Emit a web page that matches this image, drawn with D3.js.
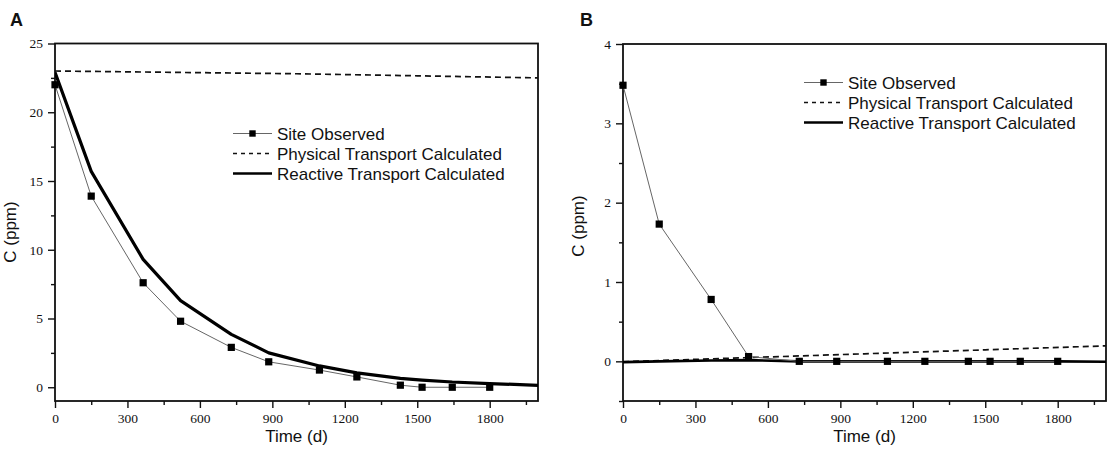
<!DOCTYPE html>
<html>
<head>
<meta charset="utf-8">
<script src="https://cdn.jsdelivr.net/npm/d3@7"></script>
<style>
  html, body { margin: 0; padding: 0; background: #fff; }
  svg { display: block; }
  .sans { font-family: "Liberation Sans", Arial, sans-serif; fill: #111; }
</style>
</head>
<body>
<svg id="chart" width="1118" height="457"></svg>
<script>
// ---------- data ----------
const timeObs   = [0, 150, 365, 520, 730, 885, 1095, 1250, 1430, 1520, 1645, 1800];
const obsA      = [22.0, 13.9, 7.6, 4.8, 2.9, 1.85, 1.25, 0.75, 0.15, 0, 0, 0];
const obsB      = [3.48, 1.73, 0.78, 0.06, 0, 0, 0, 0, 0, 0, 0, 0];

const timeCalc  = [0, 150, 365, 520, 730, 885, 1095, 1250, 1430, 1520, 1645, 1800, 2000];
const reactA    = [22.9, 15.7, 9.3, 6.3, 3.85, 2.5, 1.55, 1.05, 0.65, 0.52, 0.38, 0.27, 0.14];
const reactB    = [-0.01, 0.0, 0.01, 0.015, 0.0, 0.0, 0.0, 0.0, 0.0, 0.0, 0.0, 0.0, -0.005];

const timePhys  = [0, 500, 1000, 1500, 2000];
const physA     = [23.0, 22.9, 22.8, 22.65, 22.5];
const physB     = [-0.005, 0.045, 0.095, 0.145, 0.195];

const xTicks      = [0, 300, 600, 900, 1200, 1500, 1800];
const xMinorTicks = [150, 450, 750, 1050, 1350, 1650, 1950];
const yTicksA      = [0, 5, 10, 15, 20, 25];
const yMinorTicksA = [2.5, 7.5, 12.5, 17.5, 22.5];
const yTicksB      = [0, 1, 2, 3, 4];
const yMinorTicksB = [-0.5, 0.5, 1.5, 2.5, 3.5];

const legendLabels = ["Site Observed", "Physical Transport Calculated", "Reactive Transport Calculated"];
const xTitle = "Time (d)";
const yTitle = "C (ppm)";

// ---------- drawing ----------
const svg = d3.select("#chart");

function styleAxis(sel) {
  sel.select(".domain").remove();
  sel.selectAll(".tick line").attr("stroke", "#111").attr("stroke-width", 1.4);
  sel.selectAll(".tick text")
    .style("font-family", '"Liberation Serif", "Times New Roman", serif')
    .style("font-size", "13.5px").attr("fill", "#111");
}

function panel(opt) {
  const g = svg.append("g");
  const x = d3.scaleLinear().domain([0, 2000]).range([opt.left, opt.right]);
  const y = d3.scaleLinear().domain(opt.yDomain).range([opt.bottom, opt.top]);

  const clipId = "clip" + opt.id;
  svg.append("clipPath").attr("id", clipId).append("rect")
    .attr("x", opt.left).attr("y", opt.top)
    .attr("width", opt.right - opt.left).attr("height", opt.bottom - opt.top);

  // axes
  g.append("g").attr("transform", `translate(0,${opt.bottom})`)
    .call(d3.axisBottom(x).tickValues(xTicks).tickSize(7).tickSizeOuter(0).tickPadding(5).tickFormat(d3.format("d")))
    .call(styleAxis);
  g.append("g").attr("transform", `translate(0,${opt.bottom})`)
    .call(d3.axisBottom(x).tickValues(xMinorTicks).tickSize(4).tickSizeOuter(0).tickFormat(""))
    .call(styleAxis);
  g.append("g").attr("transform", `translate(${opt.left},0)`)
    .call(d3.axisLeft(y).tickValues(opt.yTicks).tickSize(7).tickSizeOuter(0).tickPadding(5).tickFormat(d3.format("d")))
    .call(styleAxis);
  g.append("g").attr("transform", `translate(${opt.left},0)`)
    .call(d3.axisLeft(y).tickValues(opt.yMinor).tickSize(4).tickSizeOuter(0).tickFormat(""))
    .call(styleAxis);

  // frame
  g.append("rect").attr("x", opt.left).attr("y", opt.top)
    .attr("width", opt.right - opt.left).attr("height", opt.bottom - opt.top)
    .attr("fill", "none").attr("stroke", "#111").attr("stroke-width", 1.8);

  const plot = g.append("g").attr("clip-path", `url(#${clipId})`);
  const line = d3.line().x(d => x(d[0])).y(d => y(d[1]));

  // physical (dashed)
  plot.append("path").datum(timePhys.map((t, i) => [t, opt.phys[i]]))
    .attr("d", line).attr("fill", "none").attr("stroke", "#111")
    .attr("stroke-width", 1.7).attr("stroke-dasharray", "6,4");

  // reactive (thick)
  plot.append("path").datum(timeCalc.map((t, i) => [t, opt.react[i]]))
    .attr("d", line).attr("fill", "none").attr("stroke", "#000")
    .attr("stroke-width", opt.reactWidth).attr("stroke-linejoin", "round");

  // observed
  const obs = timeObs.map((t, i) => [t, opt.obs[i]]);
  plot.append("path").datum(obs)
    .attr("d", line).attr("fill", "none").attr("stroke", "#666").attr("stroke-width", 1);
  g.selectAll(".obs" + opt.id).data(obs).enter().append("rect")
    .attr("x", d => x(d[0]) - 3.6).attr("y", d => y(d[1]) - 3.6)
    .attr("width", 7.2).attr("height", 7.2).attr("fill", "#000");

  // titles
  g.append("text").attr("class", "sans")
    .attr("x", (opt.left + opt.right) / 2).attr("y", 442)
    .attr("text-anchor", "middle").attr("font-size", 17).text(xTitle);
  g.append("text").attr("class", "sans")
    .attr("transform", `translate(${opt.yTitleX},${opt.yTitleY}) rotate(-90)`)
    .attr("text-anchor", "middle").attr("font-size", 17).text(yTitle);

  // panel letter
  g.append("text").attr("class", "sans")
    .attr("x", opt.letterX).attr("y", 26)
    .attr("font-size", 18).attr("font-weight", "bold").text(opt.letter);

  // legend
  const lg = g.append("g");
  legendLabels.forEach((lab, i) => {
    const yy = opt.legY + i * 20;
    const x0 = opt.legX, x1 = opt.legX + 39;
    if (i === 0) {
      lg.append("line").attr("x1", x0).attr("x2", x1).attr("y1", yy).attr("y2", yy)
        .attr("stroke", "#666").attr("stroke-width", 1);
      lg.append("rect").attr("x", (x0 + x1) / 2 - 3.2).attr("y", yy - 3.2)
        .attr("width", 6.4).attr("height", 6.4).attr("fill", "#000");
    } else if (i === 1) {
      lg.append("line").attr("x1", x0).attr("x2", x1).attr("y1", yy).attr("y2", yy)
        .attr("stroke", "#111").attr("stroke-width", 1.4).attr("stroke-dasharray", "4,4");
    } else {
      lg.append("line").attr("x1", x0).attr("x2", x1).attr("y1", yy).attr("y2", yy)
        .attr("stroke", "#000").attr("stroke-width", 2.6);
    }
    lg.append("text").attr("class", "sans")
      .attr("x", x1 + 5).attr("y", yy).attr("dy", "0.36em")
      .attr("font-size", 17).text(lab);
  });
}

panel({
  id: "A", letter: "A", letterX: 10,
  left: 55, right: 538, top: 43.5, bottom: 401,
  yDomain: [-1, 25], yTicks: yTicksA, yMinor: yMinorTicksA,
  obs: obsA, react: reactA, phys: physA, reactWidth: 3.2,
  yTitleX: 16, yTitleY: 232,
  legX: 233, legY: 133.5
});

panel({
  id: "B", letter: "B", letterX: 580,
  left: 623, right: 1106, top: 44, bottom: 401,
  yDomain: [-0.5, 4], yTicks: yTicksB, yMinor: yMinorTicksB,
  obs: obsB, react: reactB, phys: physB, reactWidth: 2.6,
  yTitleX: 584, yTitleY: 226,
  legX: 804, legY: 82.5
});
</script>
</body>
</html>
